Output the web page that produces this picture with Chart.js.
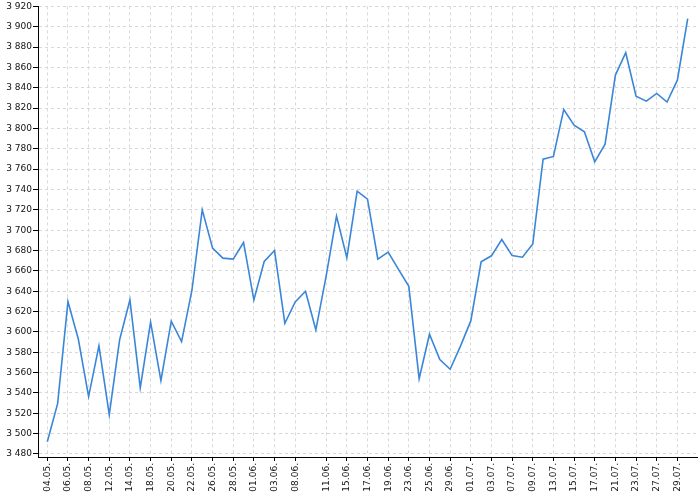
<!DOCTYPE html>
<html>
<head>
<meta charset="utf-8">
<script src="https://cdn.jsdelivr.net/npm/chart.js@4/dist/chart.umd.min.js"></script>
<style>
  html, body { margin: 0; padding: 0; background: #fff; }
  #wrap { width: 700px; height: 500px; }
</style>
</head>
<body>
<div id="wrap"><canvas id="grafico" width="700" height="500"></canvas></div>
<script>
// fechas de cada punto (días hábiles)
const fechas = [
  '04.05.', '05.05.', '06.05.', '07.05.', '08.05.', '11.05.', '12.05.', '13.05.', '14.05.', '15.05.',
  '18.05.', '19.05.', '20.05.', '21.05.', '22.05.', '25.05.', '26.05.', '27.05.', '28.05.', '29.05.',
  '01.06.', '02.06.', '03.06.', '05.06.', '08.06.', '09.06.', '10.06.', '11.06.', '12.06.', '15.06.',
  '16.06.', '17.06.', '18.06.', '19.06.', '22.06.', '23.06.', '24.06.', '25.06.', '26.06.', '29.06.',
  '30.06.', '01.07.', '02.07.', '03.07.', '06.07.', '07.07.', '08.07.', '09.07.', '10.07.', '13.07.',
  '14.07.', '15.07.', '16.07.', '17.07.', '20.07.', '21.07.', '22.07.', '23.07.', '24.07.', '27.07.',
  '28.07.', '29.07.', '30.07.'
];

// valores de la serie
const valores = [
  3492, 3529.5, 3629.8, 3593, 3536.4, 3586.2, 3518.7, 3592.1, 3631.5, 3544.9,
  3609.5, 3552.1, 3610.5, 3590.5, 3640.7, 3720, 3682.3, 3672.5, 3671.5, 3687.9,
  3631.5, 3669.2, 3680, 3608.5, 3629.5, 3640, 3602, 3655, 3713.8, 3673,
  3738.4, 3730.5, 3671.5, 3678.5, 3661.5, 3644.8, 3554, 3597.7, 3572.8, 3563.3,
  3586, 3610.8, 3668.9, 3674.8, 3690.8, 3675, 3673.4, 3686.4, 3769.8, 3772.5,
  3818.7, 3803.3, 3796.7, 3767.2, 3784.6, 3852.5, 3874.4, 3831.8, 3826.9, 3834.4,
  3826, 3847.5, 3907.9
];

// etiquetas visibles del eje X
const fechasEje = [
  '04.05.', '06.05.', '08.05.', '12.05.', '14.05.', '18.05.', '20.05.', '22.05.', '26.05.', '28.05.',
  '01.06.', '03.06.', '08.06.', '11.06.', '15.06.', '17.06.', '19.06.', '23.06.', '25.06.', '29.06.',
  '01.07.', '03.07.', '07.07.', '09.07.', '13.07.', '15.07.', '17.07.', '21.07.', '23.07.', '27.07.',
  '29.07.'
];

// marcas del eje Y
const marcasY = [
  3480, 3500, 3520, 3540, 3560, 3580, 3600, 3620, 3640, 3660, 3680, 3700,
  3720, 3740, 3760, 3780, 3800, 3820, 3840, 3860, 3880, 3900, 3920
];

// separador de miles con espacio
const formatoMiles = (v) => String(v).replace(/\B(?=(\d{3})+(?!\d))/g, ' ');

const puntos = valores.map((v, i) => ({ x: i, y: v }));
const fuente = { family: 'DejaVu Sans', size: 9 };

const config = {
  type: 'line',
  data: {
    datasets: [{
      data: puntos,
      borderColor: '#3a86d8',
      borderWidth: 1.6,
      pointRadius: 0,
      tension: 0,
      fill: false,
    }],
  },
  options: {
    responsive: false,
    animation: false,
    devicePixelRatio: 1,
    layout: { padding: { top: 5, right: 3, left: 0, bottom: 0 } },
    plugins: { legend: { display: false }, tooltip: { enabled: false } },
    scales: {
      x: {
        type: 'linear',
        min: -0.9,
        max: valores.length - 1 + 0.9,
        afterBuildTicks: (scale) => {
          scale.ticks = fechasEje.map((f) => ({ value: fechas.indexOf(f) }));
        },
        afterFit: (scale) => { scale.height = 43; },
        ticks: {
          autoSkip: false,
          minRotation: 90,
          maxRotation: 90,
          padding: 2,
          color: '#111',
          font: fuente,
          callback: (v) => fechas[v],
        },
        grid: { color: '#d8d8d8', tickColor: '#000', tickLength: 4, tickBorderDash: [] },
        border: { color: '#000', width: 1, dash: [3, 3] },
      },
      y: {
        min: 3477,
        max: 3920,
        afterBuildTicks: (scale) => {
          scale.ticks = marcasY.map((v) => ({ value: v }));
        },
        afterFit: (scale) => { scale.width = 38; },
        ticks: {
          padding: 1,
          color: '#111',
          font: fuente,
          callback: (v) => formatoMiles(v),
        },
        grid: { color: '#d8d8d8', tickColor: '#000', tickLength: 5, tickBorderDash: [] },
        border: { color: '#000', width: 1, dash: [3, 3] },
      },
    },
  },
};

new Chart(document.getElementById('grafico'), config);
</script>
</body>
</html>
